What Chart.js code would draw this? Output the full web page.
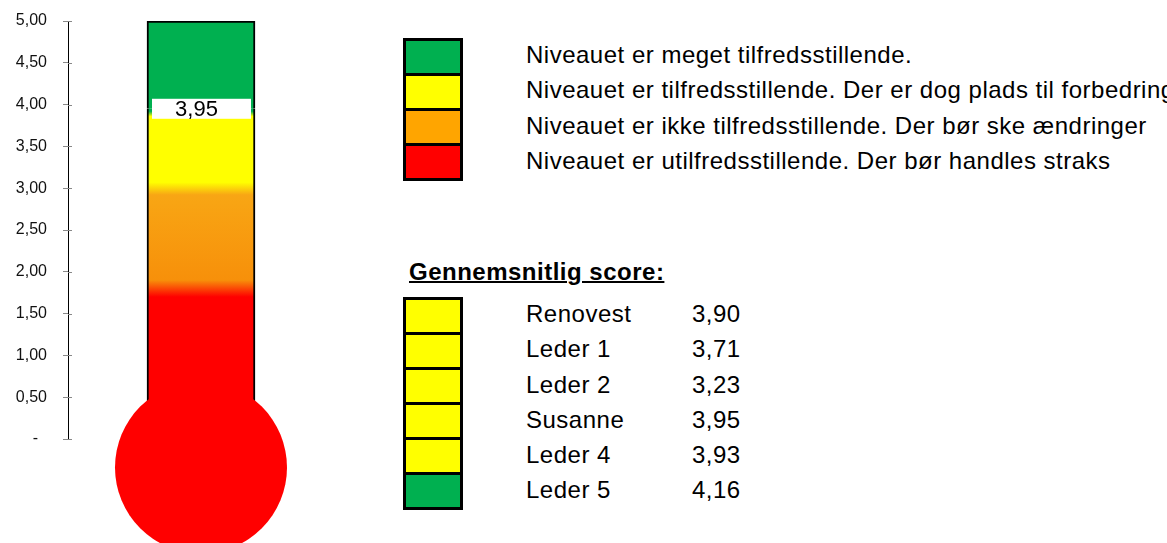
<!DOCTYPE html>
<html>
<head>
<meta charset="utf-8">
<script src="https://cdn.jsdelivr.net/npm/chart.js@4/dist/chart.umd.min.js"></script>
<style>
  body { margin: 0; width: 1167px; height: 543px; overflow: hidden; background: #fff;
         font-family: "Liberation Sans", Arial, sans-serif; color: #000; }
  #thermo { position: absolute; left: 0; top: 0; }
  .boxes { position: absolute; left: 403px; width: 54px; border: 3px solid #000; }
  .boxes div { height: 32px; }
  .boxes div + div { border-top: 3px solid #000; }
  .lines { position: absolute; font-size: 24px; line-height: 35.3px; letter-spacing: 0.5px; white-space: nowrap; }
  #title { position: absolute; left: 409px; top: 257px; font-size: 24px; line-height: 30px; font-weight: bold;
           letter-spacing: 0.5px; text-decoration: underline; text-decoration-thickness: 2px; white-space: nowrap; }
</style>
</head>
<body>
<canvas id="thermo" width="334" height="543"></canvas>

<div class="boxes" id="levelBoxes" style="top:38px"></div>
<div class="lines" id="levelText" style="left:526px; top:37px"></div>

<div id="title">Gennemsnitlig score:</div>
<div class="boxes" id="scoreBoxes" style="top:297px"></div>
<div class="lines" id="scoreNames" style="left:526px; top:296px"></div>
<div class="lines" id="scoreValues" style="left:692px; top:296px"></div>

<script>
// data
const names = ['Renovest', 'Leder 1', 'Leder 2', 'Susanne', 'Leder 4', 'Leder 5'];
const scores = [3.90, 3.71, 3.23, 3.95, 3.93, 4.16];
const shownIndex = 3;          // thermometer shows Susanne
const scaleMax = 5;
const bulbLevel = -0.34;       // centre of the bulb, below the zero line
const yTickLabels = ['-', '0,50', '1,00', '1,50', '2,00', '2,50', '3,00', '3,50', '4,00', '4,50', '5,00'];
const levelTexts = [
    'Niveauet er meget tilfredsstillende.',
    'Niveauet er tilfredsstillende. Der er dog plads til forbedring',
    'Niveauet er ikke tilfredsstillende. Der bør ske ændringer',
    'Niveauet er utilfredsstillende. Der bør handles straks'
];
const levelLimits = [4, 3, 2, 0];

const GREEN = '#00B050', YELLOW = '#FFFF00', ORANGE = '#FFA500', RED = '#FF0000';
const levelColors = [GREEN, YELLOW, ORANGE, RED];

function fmt(v) { return v.toFixed(2).replace('.', ','); }
function colorFor(v) {
    for (let i = 0; i < levelLimits.length; i++) {
        if (v >= levelLimits[i]) return levelColors[i];
    }
    return RED;
}

// right hand legends
document.getElementById('levelBoxes').innerHTML =
    levelColors.map(c => `<div style="background:${c}"></div>`).join('');
document.getElementById('levelText').innerHTML = levelTexts.map(t => `<div>${t}</div>`).join('');
document.getElementById('scoreBoxes').innerHTML =
    scores.map(s => `<div style="background:${colorFor(s)}"></div>`).join('');
document.getElementById('scoreNames').innerHTML = names.map(n => `<div>${n}</div>`).join('');
document.getElementById('scoreValues').innerHTML = scores.map(s => `<div>${fmt(s)}</div>`).join('');

// tube fill: red at the bottom, orange, yellow, green at the top
function tubeGradient(context) {
    const chart = context.chart;
    const y = chart.scales.y;
    if (!chart.chartArea || !y) return YELLOW;
    const y0 = y.getPixelForValue(0), y1 = y.getPixelForValue(scaleMax);
    if (!isFinite(y0) || !isFinite(y1)) return YELLOW;
    const g = chart.ctx.createLinearGradient(0, y0, 0, y1);
    const stop = (v, c) => g.addColorStop(v / scaleMax, c);
    stop(0, RED);
    stop(1.7, RED);
    stop(1.9, '#F7900A');
    stop(2.92, '#F8A614');
    stop(3.07, YELLOW);
    stop(3.86, YELLOW);
    stop(3.92, GREEN);
    stop(scaleMax, GREEN);
    return g;
}

const valueLabel = {
    id: 'valueLabel',
    afterDatasetsDraw(chart) {
        const bar = chart.getDatasetMeta(1).data[0];
        if (!bar) return;
        const y = chart.scales.y.getPixelForValue(scores[shownIndex]);
        const c = chart.ctx;
        const left = bar.x - bar.width / 2 + 5;
        const right = bar.x + bar.width / 2 - 4;
        c.save();
        c.fillStyle = '#fff';
        c.fillRect(left, y - 10, right - left, 20);
        c.fillStyle = '#000';
        c.font = '22px "Liberation Sans", Arial, sans-serif';
        c.textAlign = 'center';
        c.textBaseline = 'middle';
        c.fillText(fmt(scores[shownIndex]), (left + right) / 2 - 5, y + 1);
        c.restore();
    }
};

// tick marks that cross the axis line
const crossTicks = {
    id: 'crossTicks',
    afterDraw(chart) {
        const y = chart.scales.y;
        const c = chart.ctx;
        const x = chart.chartArea.left;
        c.save();
        c.strokeStyle = '#888';
        c.lineWidth = 1;
        y.ticks.forEach(t => {
            const py = Math.round(y.getPixelForValue(t.value)) + 0.5;
            c.beginPath();
            c.moveTo(x, py);
            c.lineTo(x + 4, py);
            c.stroke();
        });
        c.restore();
    }
};

new Chart(document.getElementById('thermo'), {
    type: 'bar',
    data: {
        labels: [names[shownIndex]],
        datasets: [
            {
                type: 'line',
                data: [bulbLevel],
                showLine: false,
                pointRadius: 86,
                pointHoverRadius: 86,
                pointBackgroundColor: RED,
                pointBorderWidth: 0,
                clip: false,
                order: 0
            },
            {
                data: [scores[shownIndex]],
                backgroundColor: tubeGradient,
                borderColor: '#000',
                borderWidth: { left: 2, right: 2, top: 0, bottom: 0 },
                barThickness: 108,
                order: 1
            },
            {
                data: [scaleMax - scores[shownIndex]],
                backgroundColor: tubeGradient,
                borderColor: '#000',
                borderWidth: { left: 2, right: 2, top: 2, bottom: 0 },
                barThickness: 108,
                order: 1
            }
        ]
    },
    options: {
        responsive: false,
        animation: false,
        events: [],
        layout: { autoPadding: false, padding: { top: 21, bottom: 104, left: 0, right: 0 } },
        plugins: { legend: { display: false }, tooltip: { enabled: false } },
        scales: {
            x: { stacked: true, display: false },
            y: {
                stacked: true,
                min: 0,
                max: scaleMax,
                afterFit: s => { s.width = 68; s.paddingTop = 0; s.paddingBottom = 0; },
                border: { display: true, color: '#000', width: 1 },
                grid: { drawOnChartArea: false, color: '#888', tickLength: 5 },
                ticks: {
                    stepSize: 0.5,
                    padding: 16,
                    color: '#111',
                    font: { family: '"Liberation Sans", Arial, sans-serif', size: 16 },
                    callback: (v, i) => i === 0 ? yTickLabels[i] + '  ' : yTickLabels[i]
                }
            }
        }
    },
    plugins: [valueLabel, crossTicks]
});
</script>
</body>
</html>
